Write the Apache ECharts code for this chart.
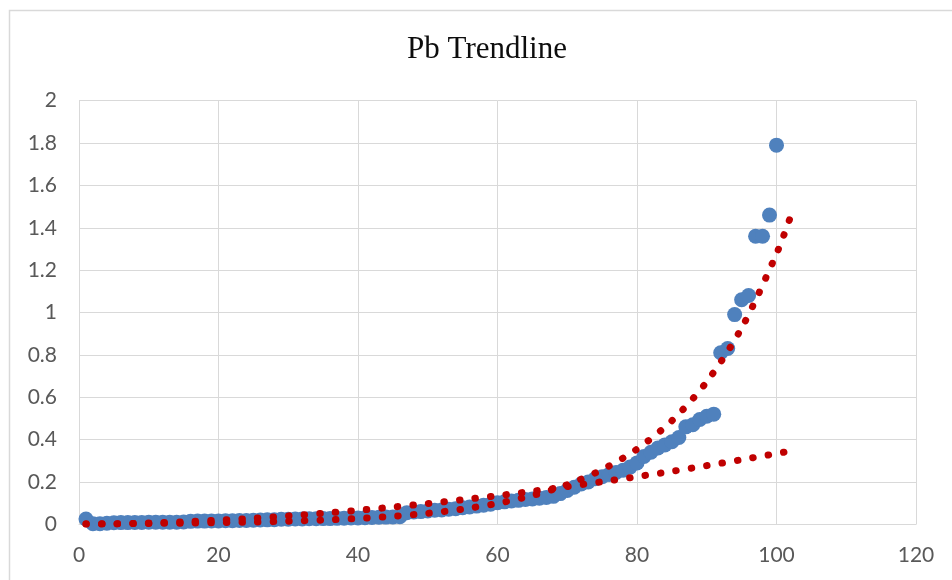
<!DOCTYPE html>
<html>
<head>
<meta charset="utf-8">
<title>Pb Trendline</title>
<script src="https://cdn.jsdelivr.net/npm/echarts@6/dist/echarts.min.js"></script>
<style>
  html, body { margin: 0; padding: 0; background: #ffffff; }
  #chart { width: 952px; height: 580px; }
</style>
</head>
<body>
<div id="chart"></div>
<script>
// Pb concentrations, in rank order (observation 1..100)
const pbValues = [
  0.025, 0.003, 0.003, 0.005, 0.007, 0.008, 0.008, 0.009, 0.009, 0.010,
  0.010, 0.010, 0.010, 0.010, 0.011, 0.014, 0.015, 0.015, 0.016, 0.016,
  0.017, 0.017, 0.018, 0.018, 0.019, 0.020, 0.021, 0.022, 0.024, 0.024,
  0.025, 0.025, 0.026, 0.026, 0.027, 0.027, 0.028, 0.029, 0.030, 0.030,
  0.031, 0.032, 0.033, 0.034, 0.035, 0.036, 0.055, 0.058, 0.060, 0.063,
  0.066, 0.068, 0.071, 0.074, 0.078, 0.082, 0.086, 0.090, 0.095, 0.102,
  0.106, 0.110, 0.113, 0.117, 0.120, 0.123, 0.127, 0.132, 0.145, 0.160,
  0.175, 0.190, 0.200, 0.215, 0.225, 0.235, 0.245, 0.255, 0.270, 0.290,
  0.320, 0.340, 0.360, 0.375, 0.390, 0.410, 0.460, 0.470, 0.495, 0.510,
  0.520, 0.810, 0.830, 0.990, 1.060, 1.080, 1.360, 1.360, 1.460, 1.790
];

// Trendline sample positions (x) and their fitted values
const trendX = [1, 5, 10, 15, 20, 25, 30, 35, 40, 45, 50, 55, 60, 65, 70, 75, 80, 85, 90, 95, 100, 102];
const expTrend = [0.0023, 0.0029, 0.0040, 0.0055, 0.0076, 0.0105, 0.0145, 0.0199, 0.0274, 0.0378, 0.052,
  0.0717, 0.0987, 0.136, 0.187, 0.258, 0.355, 0.489, 0.673, 0.927, 1.277, 1.451];
const powerTrend = [0.0001, 0.0017, 0.0057, 0.0116, 0.0193, 0.0287, 0.0397, 0.0521, 0.0659, 0.0813, 0.098,
  0.116, 0.135, 0.156, 0.178, 0.201, 0.225, 0.250, 0.277, 0.305, 0.334, 0.346];

// Axis ticks
const xTicks = { min: 0, max: 120, step: 20 };
const yTicks = { min: 0, max: 2, step: 0.2 };

const pbPoints = pbValues.map((v, i) => [i + 1, v]);
const toPairs = (xs, ys) => xs.map((x, i) => [x, ys[i]]);

const chart = echarts.init(document.getElementById('chart'), null, { renderer: 'canvas' });

const gridLine = { show: true, lineStyle: { color: '#d9d9d9', width: 1 } };
const tickFont = { color: '#595959', fontSize: 21, fontFamily: 'Lato, "Open Sans", sans-serif' };
const dottedRed = {
  color: '#c00000',
  width: 7,
  type: [0.5, 15.1],
  cap: 'round'
};

chart.setOption({
  animation: false,
  backgroundColor: '#ffffff',
  graphic: [
    {
      type: 'rect',
      shape: { x: 9.5, y: 10.5, width: 960, height: 600 },
      style: { fill: 'none', stroke: '#d9d9d9', lineWidth: 1.5 },
      silent: true,
      z: -10
    },
    {
      type: 'text',
      x: 487,
      y: 49.5,
      style: {
        text: 'Pb Trendline',
        fill: '#0d0d0d',
        font: '31px "Liberation Serif", "Times New Roman", serif',
        align: 'center',
        verticalAlign: 'middle'
      }
    }
  ],
  grid: { left: 79, right: 36, top: 100.7, bottom: 55.7, containLabel: false },
  xAxis: {
    type: 'value',
    min: xTicks.min,
    max: xTicks.max,
    interval: xTicks.step,
    axisLine: { show: true, lineStyle: { color: '#d9d9d9', width: 1 } },
    axisTick: { show: false },
    axisLabel: Object.assign({ margin: 20 }, tickFont),
    splitLine: gridLine
  },
  yAxis: {
    type: 'value',
    min: yTicks.min,
    max: yTicks.max,
    interval: yTicks.step,
    axisLine: { show: true, lineStyle: { color: '#d9d9d9', width: 1 } },
    axisTick: { show: false },
    axisLabel: Object.assign({ margin: 22 }, tickFont),
    splitLine: gridLine
  },
  series: [
    {
      name: 'Pb',
      type: 'scatter',
      data: pbPoints,
      symbol: 'circle',
      symbolSize: 15,
      itemStyle: { color: '#4f81bd', opacity: 1 },
      z: 2
    },
    {
      name: 'Expon. (Pb)',
      type: 'line',
      data: toPairs(trendX, expTrend),
      smooth: 0.3,
      showSymbol: false,
      lineStyle: dottedRed,
      z: 3
    },
    {
      name: 'Power (Pb)',
      type: 'line',
      data: toPairs(trendX, powerTrend),
      smooth: 0.3,
      showSymbol: false,
      lineStyle: dottedRed,
      z: 3
    }
  ]
});
</script>
</body>
</html>
